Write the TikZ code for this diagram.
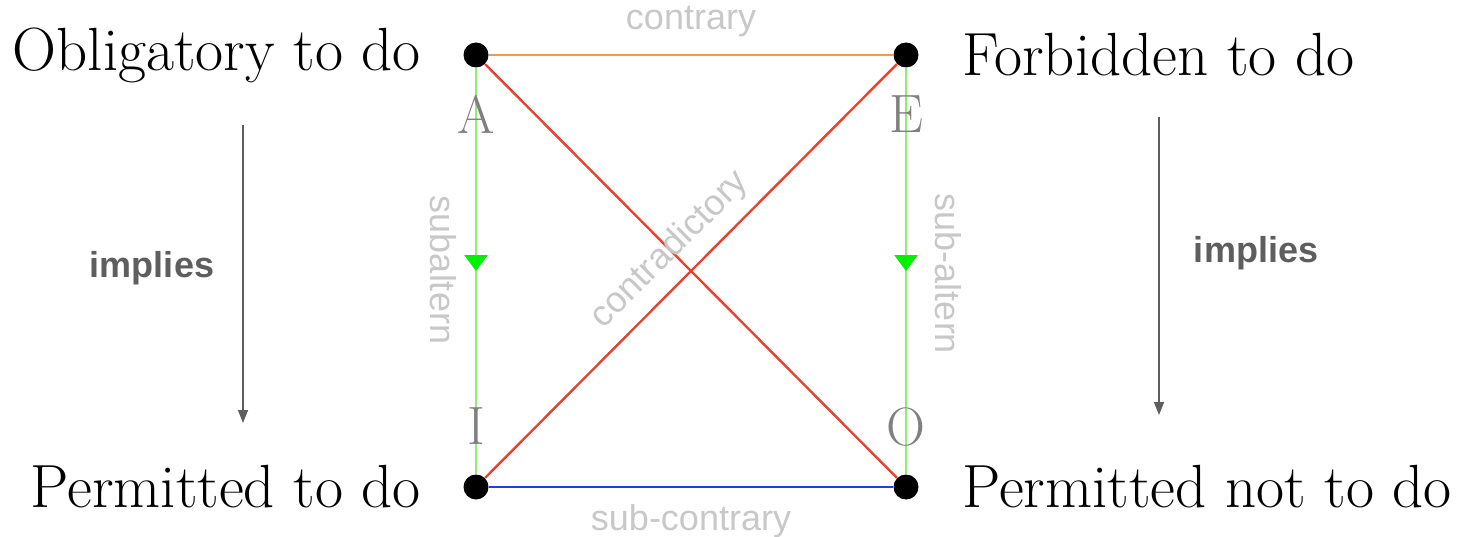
\documentclass[tikz,border=0pt]{standalone}
\usepackage{fontspec}
\setsansfont{Liberation Sans}
\usetikzlibrary{arrows.meta,positioning,decorations.markings}
\definecolor{contr}{HTML}{EE9A4D}
\definecolor{contrad}{HTML}{E5432F}
\definecolor{subcon}{HTML}{1F3FE6}
\definecolor{subalt}{HTML}{8EEE6E}
\definecolor{subtip}{HTML}{00F000}
\definecolor{rel}{HTML}{C8C8C8}
\definecolor{imp}{HTML}{5E5E5E}

\begin{document}
\begin{tikzpicture}[x=0.5pt, y=0.5pt, dot/.style={circle, fill=black, inner sep=0pt, minimum size=12.5pt}, big/.style={inner sep=0pt, font=\fontsize{30.5}{33}\selectfont}, vow/.style={inner sep=0pt, text=gray, font=\fontsize{27}{30}\selectfont}, lbl/.style={inner sep=0pt, text=rel, font=\sffamily\fontsize{18}{20}\selectfont}, impl/.style={inner sep=0pt, text=imp, font=\sffamily\bfseries\fontsize{18}{20}\selectfont}, down/.style={draw=subalt, line width=1.4pt, postaction={decorate}, decoration={markings, mark=at position 0.5 with {\arrow[subtip]{Triangle[length=8pt,width=11.5pt]}}}}]
\useasboundingbox (0,0) rectangle (1459,536);
\node[dot] (A) at (476,481) {};
\node[dot] (E) at (906,481) {};
\node[dot] (I) at (476,49) {};
\node[dot] (O) at (906,49) {};
\node[big, left=21pt of A] (obl) {Obligatory to do};
\node[big, right=21.5pt of E] (forb) {Forbidden to do};
\node[big, left=21pt of I] (perm) {Permitted to do};
\node[big, right=21.5pt of O] (permn) {Permitted not to do};
\draw[contr, line width=1.2pt] (A) -- node[lbl, above=8.5pt] (ct) {contrary} (E);
\draw[subcon, line width=1.2pt] (I) -- node[lbl, below=8pt] (sc) {sub-contrary} (O);
\draw[contrad, line width=1.2pt] (A) -- (O); \draw[contrad, line width=1.2pt] (I) -- (E);
\draw[down] (A) -- (I); \draw[down] (E) -- (O);
\node[vow, below=13.5pt of A] (la) {A};
\node[vow, below=13.5pt of E] (le) {E};
\node[vow, above=14.5pt of I] (li) {I};
\node[vow, above=13.5pt of O] (lo) {O};
\node[lbl, rotate=-90] (sa) at (443,266) {subaltern};
\node[lbl, rotate=-90] (sa2) at (948,262) {sub-altern};
\node[lbl, rotate=45] (cd) at (670,286) {contradictory};
\coordinate (il1) at (243,411); \coordinate (il2) at (243,113);
\coordinate (ir1) at (1159,419); \coordinate (ir2) at (1159,121);
\draw[imp, line width=0.75pt, -{Triangle[length=6.5pt,width=5pt]}] (il1) -- (il2);
\draw[imp, line width=0.75pt, -{Triangle[length=6.5pt,width=5pt]}] (ir1) -- (ir2);
\node[impl] (im1) at (152,268) {implies};
\node[impl] (im2) at (1256,283) {implies};
\end{tikzpicture}
\end{document}
